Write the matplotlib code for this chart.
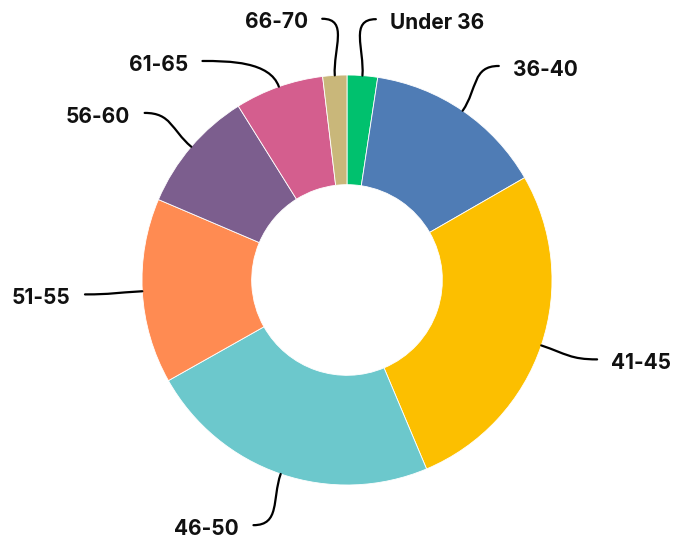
import numpy as np
import matplotlib.pyplot as plt
from matplotlib.path import Path
from matplotlib.patches import PathPatch

labels = ['Under 36', '36-40', '41-45', '46-50', '51-55', '56-60', '61-65', '66-70']
values = [2.4, 14.3, 27.0, 23.2, 14.6, 9.7, 7.0, 1.9]
colors = ['#00C16E', '#4F7CB5', '#FCBF00', '#6CC8CC', '#FF8B52', '#7C5E8E', '#D45E8E', '#C9B77A']

# label angle nudges (degrees, clockwise) to keep labels apart
nudge = [2, 1, -1, 2, 0, -1, -14, -2]

W, H = 677, 538
cx, cy, R = 347, 280, 205

fig = plt.figure(figsize=(W / 100, H / 100), dpi=100)
ax = fig.add_axes([0, 0, 1, 1])

wedges, _ = ax.pie(values, colors=colors, startangle=90, counterclock=False,
                   radius=1, wedgeprops=dict(width=0.535, edgecolor='white', linewidth=0.6))

total = sum(values)
cum = np.cumsum([0] + values[:-1])
for i, lab in enumerate(labels):
    mid = np.deg2rad((cum[i] + values[i] / 2) / total * 360)
    d = np.array([np.sin(mid), np.cos(mid)])
    p0 = d * 1.0
    la = mid + np.deg2rad(nudge[i])
    p3 = np.array([np.sin(la), np.cos(la)]) * 1.28
    side = 1 if p3[0] >= 0 else -1
    p1 = p0 + d * 0.13
    p2 = p3 - np.array([side * 0.13, 0])
    path = Path([p0, p1, p2, p3], [Path.MOVETO, Path.CURVE4, Path.CURVE4, Path.CURVE4])
    ax.add_patch(PathPatch(path, fill=False, lw=1.6, color='black', capstyle='round'))
    ax.text(p3[0] + side * 0.07, p3[1] - 0.018, lab, ha='left' if side > 0 else 'right', va='center',
            fontsize=15, fontweight='bold', family=['Inter', 'DejaVu Sans'], color='#111111')

ax.set_aspect('equal')
ax.set_xlim(-cx / R, (W - cx) / R)
ax.set_ylim((cy - H) / R, cy / R)
ax.axis('off')

fig.savefig('out.png', dpi=100)
